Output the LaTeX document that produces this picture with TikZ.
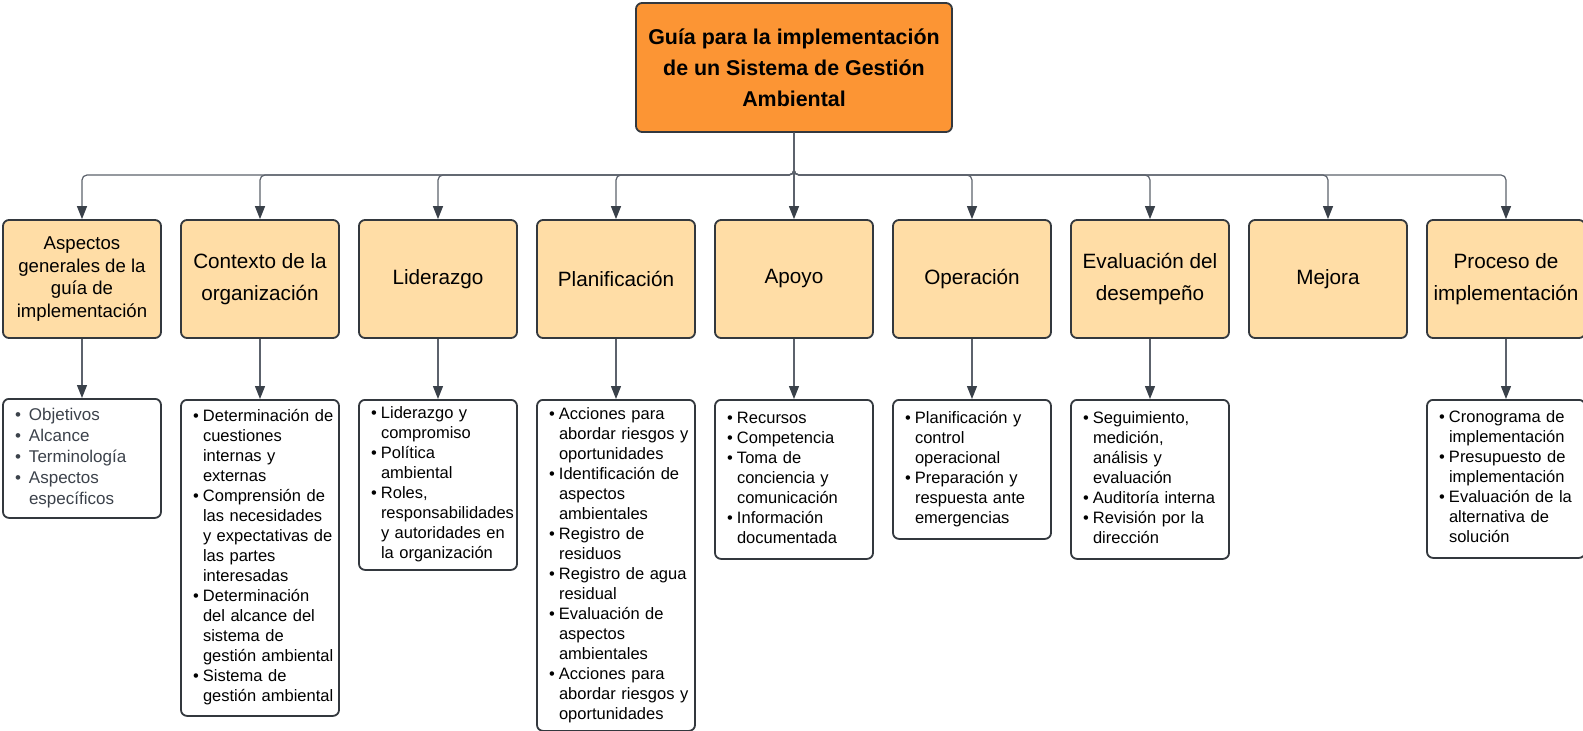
\documentclass[tikz,border=0pt]{standalone}
\usepackage{fontspec}
\setmainfont{Liberation Sans}
\usetikzlibrary{arrows.meta}

\definecolor{guiaorange}{RGB}{252,149,52}
\definecolor{guiasand}{RGB}{255,221,166}
\definecolor{guiaedge}{RGB}{51,56,62}
\definecolor{guialine}{RGB}{92,98,108}
\definecolor{guiahead}{RGB}{58,65,74}
\definecolor{guiagray}{RGB}{60,66,75}

\newcommand{\bl}[1][10pt]{\makebox[#1][l]{\textbullet}}
\newcommand{\ct}[1][10pt]{\hspace*{#1}}
\newcommand{\guialist}[1]{\noindent\begin{tabular}{@{}l@{}}#1\end{tabular}}

\begin{document}
\begin{tikzpicture}[x=1pt,y=-1pt,
	box/.style={draw=guiaedge,line width=1.8pt,rounded corners=6pt,minimum width=158pt,inner sep=0pt,align=center},
	head/.style={box,fill=guiasand,minimum height=118pt,font=\fontsize{20.7}{32}\selectfont},
	list/.style={box,fill=white,anchor=north,align=left,text width=134pt,font=\fontsize{16.5}{20}\selectfont},
	conn/.style={draw=guialine,line width=1.2pt,rounded corners=5pt,-{Triangle[length=13pt,width=10pt,color=guiahead]}}]
\useasboundingbox (0,0) rectangle (1583,731);

\node at (794,67.5) [box,fill=guiaorange,minimum width=316pt,minimum height=129pt,font=\bfseries\fontsize{21.4}{31}\selectfont] (root) {Guía para la implementación\\de un Sistema de Gestión\\Ambiental};

% first row
\node at (82,279) [head,font=\fontsize{18.6}{22.5}\selectfont] (c1) {Aspectos\\generales de la\\guía de\\implementación};
	\foreach \i/\txt in {2/{Contexto de la\\organización},3/Liderazgo,4/Planificación,5/Apoyo,6/Operación,7/{Evaluación del\\desempeño},8/Mejora,9/{Proceso de\\implementación}} {
		\node at (\i*178-96,279) [head] (c\i) {\txt};
		}

\coordinate (bus) at (794,175);
	\foreach \i in {1,2,3,4,6,7,8,9} {
		\draw[conn] (root.south) -- (bus) -| (c\i.north);
		}
\draw[conn] (root.south) -- (c5.north);

% second row
\node at (82,398) [list,minimum height=119pt,text=guiagray,font=\fontsize{17}{21}\selectfont] (d1) {\guialist{\bl[14pt]Objetivos\\ \bl[14pt]Alcance\\ \bl[14pt]Terminología\\ \bl[14pt]Aspectos\\ \ct[14pt]específicos}};
\node at (260,399) [list,minimum height=316pt] (d2) {\guialist{\bl Determinación de\\ \ct cuestiones\\ \ct internas y\\ \ct externas\\ \bl Comprensión de\\ \ct las necesidades\\ \ct y expectativas de\\ \ct las partes\\ \ct interesadas\\ \bl Determinación\\ \ct del alcance del\\ \ct sistema de\\ \ct gestión ambiental\\ \bl Sistema de\\ \ct gestión ambiental}};
\node at (438,399) [list,minimum height=170pt] (d3) {\guialist{\bl Liderazgo y\\ \ct compromiso\\ \bl Política\\ \ct ambiental\\ \bl Roles,\\ \ct responsabilidades\\ \ct y autoridades en\\ \ct la organización}};
\node at (616,399) [list,minimum height=331pt] (d4) {\guialist{\bl Acciones para\\ \ct abordar riesgos y\\ \ct oportunidades\\ \bl Identificación de\\ \ct aspectos\\ \ct ambientales\\ \bl Registro de\\ \ct residuos\\ \bl Registro de agua\\ \ct residual\\ \bl Evaluación de\\ \ct aspectos\\ \ct ambientales\\ \bl Acciones para\\ \ct abordar riesgos y\\ \ct oportunidades}};
\node at (794,399) [list,minimum height=159pt] (d5) {\guialist{\bl Recursos\\ \bl Competencia\\ \bl Toma de\\ \ct conciencia y\\ \ct comunicación\\ \bl Información\\ \ct documentada}};
\node at (972,399) [list,minimum height=139pt] (d6) {\guialist{\bl Planificación y\\ \ct control\\ \ct operacional\\ \bl Preparación y\\ \ct respuesta ante\\ \ct emergencias}};
\node at (1150,399) [list,minimum height=159pt] (d7) {\guialist{\bl Seguimiento,\\ \ct medición,\\ \ct análisis y\\ \ct evaluación\\ \bl Auditoría interna\\ \bl Revisión por la\\ \ct dirección}};
\node at (1506,399) [list,minimum height=158pt] (d9) {\guialist{\bl Cronograma de\\ \ct implementación\\ \bl Presupuesto de\\ \ct implementación\\ \bl Evaluación de la\\ \ct alternativa de\\ \ct solución}};

	\foreach \i in {1,2,3,4,5,6,7,9} {
		\draw[conn] (c\i.south) -- (d\i.north);
		}
\end{tikzpicture}
\end{document}
